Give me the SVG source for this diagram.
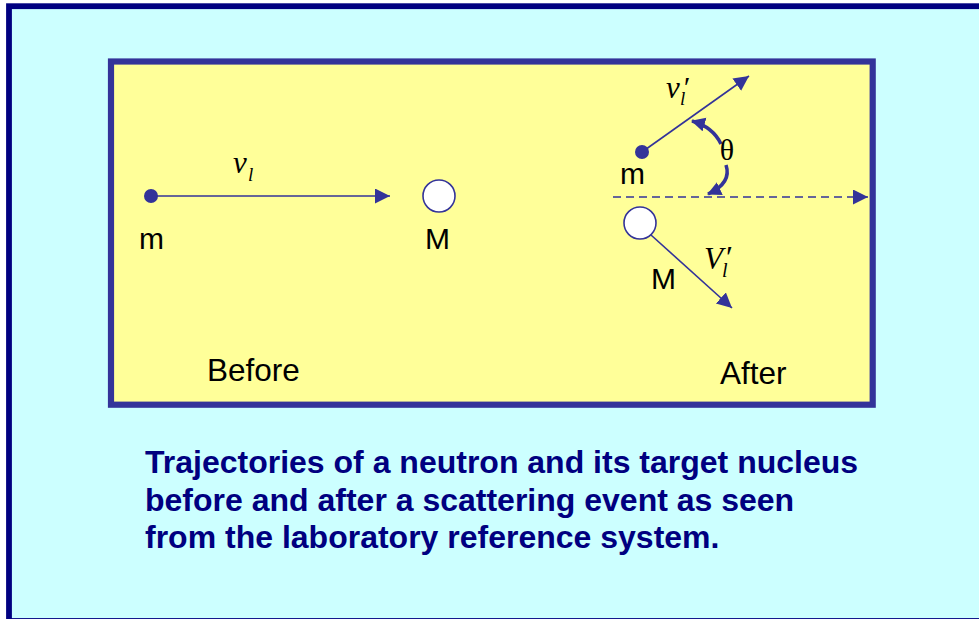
<svg xmlns="http://www.w3.org/2000/svg" width="979" height="619" viewBox="0 0 979 619">
  <style>
    .lbl { font-family: "Liberation Sans", Arial, sans-serif; font-size: 30px; fill: #000000; }
    .big { font-family: "Liberation Sans", Arial, sans-serif; font-size: 31.5px; fill: #000000; }
    .cap { font-family: "Liberation Sans", Arial, sans-serif; font-size: 32px; font-weight: bold; fill: #000080; }
    .math { font-family: "Liberation Serif", "Times New Roman", serif; font-style: italic; fill: #000000; }
    .greek { font-family: "Liberation Serif", "Times New Roman", serif; fill: #000000; }
    .traj { stroke: #333399; stroke-width: 1.6; fill: none; }
    .curve { stroke: #333399; stroke-width: 3.5; fill: none; }
    .dot { fill: #333399; }
    .ball { fill: #FFFFFF; stroke: #333399; stroke-width: 1.6; }
  </style>
  <defs>
    <marker id="ah" markerUnits="userSpaceOnUse" markerWidth="16" markerHeight="16" refX="15" refY="7.5" orient="auto">
      <path d="M0,0 L15,7.5 L0,15 z" fill="#333399"/>
    </marker>
    <marker id="ahc" markerUnits="userSpaceOnUse" markerWidth="16" markerHeight="16" refX="13" refY="7" orient="auto">
      <path d="M0,0 L14,7 L0,14 z" fill="#333399"/>
    </marker>
  </defs>

  <rect x="0" y="0" width="979" height="619" fill="#FFFFFF"/>
  <rect id="frame" x="9" y="6.2" width="980" height="614.8" fill="#CCFFFF" stroke="#000080" stroke-width="5.8"/>
  <rect id="panel" x="111" y="61.5" width="761.7" height="343.2" fill="#FFFF99" stroke="#333399" stroke-width="6.2"/>

  <g id="connectors">
    <line class="traj" x1="151" y1="196" x2="390" y2="196" marker-end="url(#ah)"/>
    <line class="traj" x1="642" y1="152" x2="749" y2="76" marker-end="url(#ah)"/>
    <line class="traj" x1="651" y1="235" x2="732" y2="308" marker-end="url(#ah)"/>
    <line class="traj" x1="613" y1="197" x2="868" y2="197" stroke-dasharray="8 5" marker-end="url(#ah)"/>
    <path class="curve" d="M721,144 Q713,127 692,121" marker-end="url(#ahc)"/>
    <path class="curve" d="M726,165 Q732,183 708,194" marker-end="url(#ahc)"/>
  </g>

  <g id="before-m">
    <circle class="dot" cx="151" cy="196" r="7"/>
    <text class="lbl" x="139" y="249">m</text>
  </g>
  <g id="before-M">
    <circle class="ball" cx="439" cy="196" r="16"/>
    <text class="lbl" x="425" y="249">M</text>
  </g>
  <g id="label-vl">
    <text class="math" font-size="31"><tspan x="233" y="173">ν</tspan><tspan x="248" y="181" font-size="19">l</tspan></text>
  </g>
  <g id="before-label">
    <text class="big" x="207" y="381">Before</text>
  </g>

  <g id="after-m">
    <circle class="dot" cx="642" cy="152" r="7"/>
    <text class="lbl" x="620" y="184">m</text>
  </g>
  <g id="after-M">
    <circle class="ball" cx="640" cy="223" r="16"/>
    <text class="lbl" x="651" y="289">M</text>
  </g>
  <g id="label-vl-prime">
    <text class="math" font-size="31"><tspan x="666" y="98">ν</tspan><tspan x="682" y="97" font-size="30">′</tspan><tspan x="680" y="105" font-size="19">l</tspan></text>
  </g>
  <g id="label-Vl-prime">
    <text class="math" font-size="31"><tspan x="704" y="269">V</tspan><tspan x="724" y="268" font-size="32">′</tspan><tspan x="722" y="277" font-size="20">l</tspan></text>
  </g>
  <g id="theta">
    <text class="greek" x="727" y="160" font-size="30" text-anchor="middle">θ</text>
  </g>
  <g id="after-label">
    <text class="big" x="720" y="384">After</text>
  </g>

  <g id="caption">
    <text class="cap" x="145" y="473">Trajectories of a neutron and its target nucleus</text>
    <text class="cap" x="145" y="511">before and after a scattering event as seen</text>
    <text class="cap" x="145" y="548">from the laboratory reference system.</text>
  </g>
</svg>
